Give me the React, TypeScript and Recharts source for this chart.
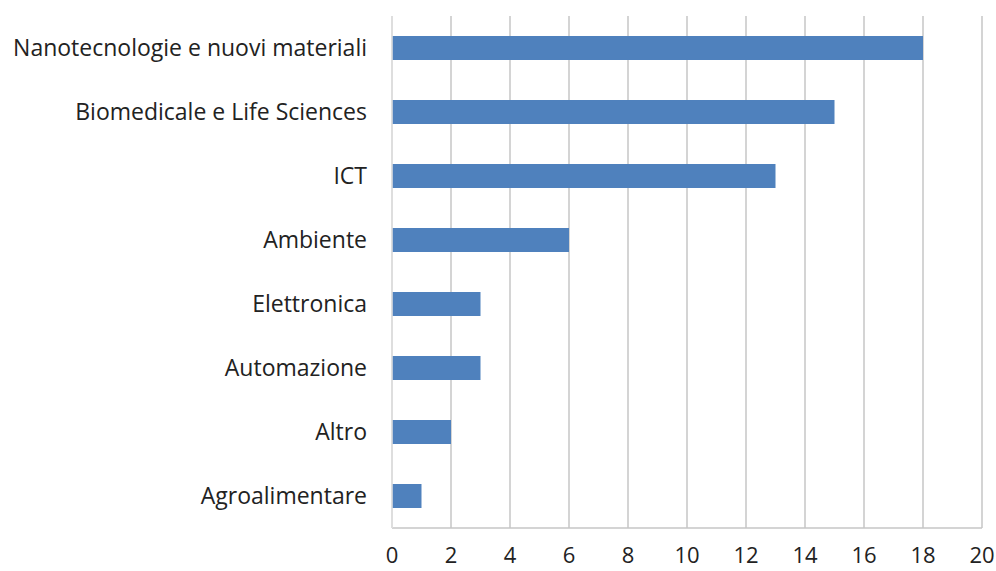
import { BarChart, Bar, XAxis, YAxis, CartesianGrid } from 'recharts';

const categories = [
  'Nanotecnologie e nuovi materiali',
  'Biomedicale e Life Sciences',
  'ICT',
  'Ambiente',
  'Elettronica',
  'Automazione',
  'Altro',
  'Agroalimentare',
];
const values = [18, 15, 13, 6, 3, 3, 2, 1];
const xTicks = [0, 2, 4, 6, 8, 10, 12, 14, 16, 18, 20];

const data = categories.map((name, i) => ({ name, value: values[i] }));

const font = "'Open Sans', 'Noto Sans', sans-serif";

export default function App() {
  return (
    <div style={{ position: 'absolute', left: 0, top: 0, width: 996, height: 571, background: '#fff' }}>
      <BarChart
        width={996}
        height={571}
        data={data}
        layout="vertical"
        margin={{ top: 16, right: 14, left: 0, bottom: 0 }}
      >
        <CartesianGrid horizontal={false} stroke="#c6c6c6" strokeWidth={1.5} />
        <XAxis
          type="number"
          domain={[0, 20]}
          ticks={xTicks}
          interval={0}
          height={43}
          axisLine={{ stroke: '#c6c6c6', strokeWidth: 1.5 }}
          tickLine={false}
          tickMargin={13}
          tick={{ fontSize: 22, fill: '#222', fontFamily: font }}
        />
        <XAxis
          xAxisId="top"
          orientation="top"
          type="number"
          domain={[0, 20]}
          height={0}
          tick={false}
          tickLine={false}
          axisLine={{ stroke: '#c6c6c6', strokeWidth: 1.5 }}
        />
        <YAxis
          type="category"
          dataKey="name"
          width={392}
          interval={0}
          axisLine={{ stroke: '#e2e2e2', strokeWidth: 1.5 }}
          tickLine={false}
          tickMargin={19}
          tick={{ fontSize: 23, fill: '#222', fontFamily: font }}
        />
        <Bar dataKey="value" fill="#4f81bd" barSize={24} isAnimationActive={false} />
      </BarChart>
    </div>
  );
}
